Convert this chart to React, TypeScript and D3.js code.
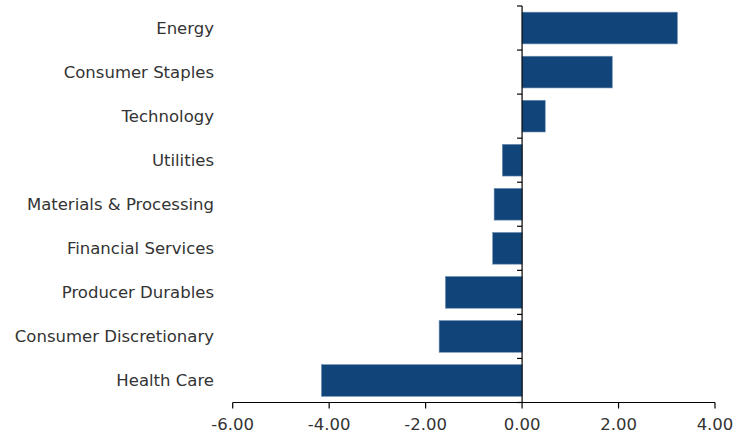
import React from "react";
import * as d3 from "d3";

const categories = [
  "Energy",
  "Consumer Staples",
  "Technology",
  "Utilities",
  "Materials & Processing",
  "Financial Services",
  "Producer Durables",
  "Consumer Discretionary",
  "Health Care",
];
const values = [3.22, 1.87, 0.48, -0.41, -0.58, -0.61, -1.59, -1.72, -4.16];
const xTicks = [-6, -4, -2, 0, 2, 4];

const W = 733;
const H = 439;
const FONT = "DejaVu Sans, Verdana, sans-serif";

export default function App() {
  const x = d3.scaleLinear().domain([-6, 4]).range([232.7, 715]);
  const y = d3.scaleBand().domain(categories).range([6, 402.5]).paddingInner(0.28).paddingOuter(0.14);
  const axisY = 402.5;
  const x0 = x(0);
  const step = y.step();
  const fmt = (t: number) => d3.format(".2f")(t).replace("\u2212", "-");
  return (
    <div style={{ position: "absolute", left: 0, top: 0 }}>
      <svg width={W} height={H} style={{ display: "block", background: "#fff" }}>
        {categories.map((c, i) => {
          const v = values[i];
          const bx = Math.min(x(v), x0);
          const bw = Math.abs(x(v) - x0);
          return (
            <rect key={c} x={bx} y={y(c)} width={bw} height={y.bandwidth()} fill="#114479" stroke="#6f8fb3" strokeWidth={0.6} />
          );
        })}
        <line x1={x0} x2={x0} y1={6} y2={axisY} stroke="#000" strokeWidth={1.2} />
        {d3.range(categories.length + 1).map((i) => (
          <line key={"yt" + i} x1={x0 - 5} x2={x0} y1={6 + i * step} y2={6 + i * step} stroke="#000" strokeWidth={1.2} />
        ))}
        <line x1={x(-6)} x2={x(4)} y1={axisY} y2={axisY} stroke="#000" strokeWidth={1.2} />
        {xTicks.map((t) => (
          <g key={"xt" + t}>
            <line x1={x(t)} x2={x(t)} y1={axisY} y2={axisY + 6} stroke="#000" strokeWidth={1.2} />
            <text x={x(t)} y={axisY + 27} textAnchor="middle" fontFamily={FONT} fontSize={16.5} fill="#333">
              {fmt(t)}
            </text>
          </g>
        ))}
        {categories.map((c) => (
          <text key={"l" + c} x={214} y={(y(c) as number) + y.bandwidth() / 2} dy="0.35em" textAnchor="end" fontFamily={FONT} fontSize={16.5} fill="#333">
            {c}
          </text>
        ))}
      </svg>
    </div>
  );
}
